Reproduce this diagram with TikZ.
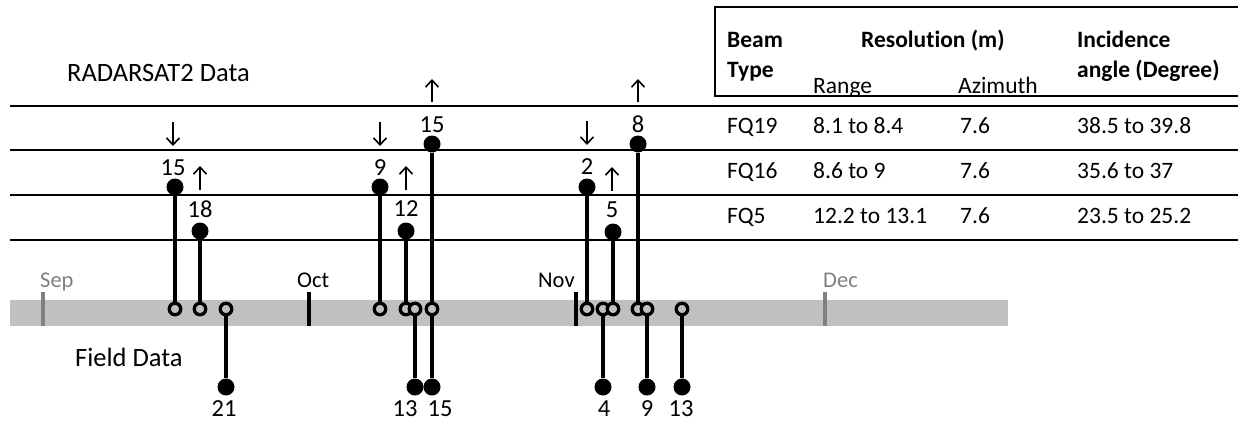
\documentclass[tikz,border=0pt]{standalone}
\usepackage{fontspec}
\setmainfont[Ligatures=NoCommon]{Carlito}
\usetikzlibrary{arrows.meta}
\definecolor{barcol}{HTML}{C0C0C0}
\definecolor{monthgray}{HTML}{808080}
\begin{document}
\begin{tikzpicture}[x=1pt,y=-1pt,
  dotnode/.style={circle,fill=black,inner sep=0pt,minimum size=17pt},
  ringnode/.style={circle,draw=black,line width=3.3pt,fill=barcol,inner sep=0pt,minimum size=11.5pt},
  stem/.style={line width=4pt},
  num/.style={font=\fontsize{24.5}{27}\selectfont,inner sep=0pt},
  tab/.style={font=\fontsize{23.5}{26}\selectfont,inner sep=0pt,anchor=base west},
  tabb/.style={font=\fontsize{23.5}{26}\selectfont\bfseries,inner sep=0pt,anchor=base west},
  big/.style={font=\fontsize{26.5}{30}\selectfont,inner sep=0pt,anchor=base west},
  month/.style={font=\fontsize{22.5}{26}\selectfont,inner sep=0pt,anchor=base west},
  tick/.style={line width=4pt},
  rowline/.style={line width=1.7pt},
  dirarrow/.style={line width=1.6pt,-{Straight Barb[length=7pt,width=13pt]}},
]
\useasboundingbox (0,0) rectangle (1238,421);

% timeline bar
\fill[barcol] (10,300) rectangle (1008,326);
% month ticks
\draw[tick,monthgray] (43,292) -- (43,326);
\draw[tick] (309,292) -- (309,326);
\draw[tick] (576,292) -- (576,326);
\draw[tick,monthgray] (825,292) -- (825,326);
\node[month,text=monthgray] (sep) at (40,287) {Sep};
\node[month] (oct) at (297,287) {Oct};
\node[month] (nov) at (538,287) {Nov};
\node[month,text=monthgray] (dec) at (823,287) {Dec};

% row lines
\draw[rowline] (10,106) -- (1238,106);
\draw[rowline] (10,150) -- (1238,150);
\draw[rowline] (10,195) -- (1238,195);
\draw[rowline] (10,240) -- (1238,240);

% table header box
\draw[line width=1.5pt] (1238,7) -- (715,7) -- (715,96) -- (1238,96);
\node[tabb] (hbeam) at (727,47) {Beam};
\node[tabb] (htype) at (727,77) {Type};
\node[tabb] (hres) at (861,47) {Resolution (m)};
\node[tab] (hrange) at (813,93) {Range};
\node[tab] (hazi) at (958,93) {Azimuth};
\node[tabb] (hinc) at (1077,47) {Incidence};
\node[tabb] (hang) at (1077,77) {angle (Degree)};
% table rows
\node[tab] (b1) at (727,133) {FQ19};
\node[tab] (r1v) at (813,133) {8.1 to 8.4};
\node[tab] (a1) at (960,133) {7.6};
\node[tab] (i1) at (1077,133) {38.5 to 39.8};
\node[tab] (b2) at (727,178) {FQ16};
\node[tab] (r2v) at (813,178) {8.6 to 9};
\node[tab] (a2) at (960,178) {7.6};
\node[tab] (i2) at (1077,178) {35.6 to 37};
\node[tab] (b3) at (727,223) {FQ5};
\node[tab] (r3v) at (813,223) {12.2 to 13.1};
\node[tab] (a3) at (960,223) {7.6};
\node[tab] (i3) at (1077,223) {23.5 to 25.2};

% section labels
\node[big] (radar) at (67,81) {RADARSAT2 Data};
\node[big] (field) at (75,366) {Field Data};

% rings on the timeline
\node[ringnode] (o1) at (175,309) {};
\node[ringnode] (o2) at (200,309) {};
\node[ringnode] (o3) at (226,309) {};
\node[ringnode] (o4) at (380,309) {};
\node[ringnode] (o5) at (406,309) {};
\node[ringnode] (o6) at (415,309) {};
\node[ringnode] (o7) at (432,309) {};
\node[ringnode] (o8) at (587,309) {};
\node[ringnode] (o9) at (603,309) {};
\node[ringnode] (o10) at (613,309) {};
\node[ringnode] (o11) at (638,309) {};
\node[ringnode] (o12) at (647,309) {};
\node[ringnode] (o13) at (682,309) {};

% RADARSAT2 acquisitions
\node[dotnode] (t1) at (175,187) {};
\node[dotnode] (t2) at (200,231) {};
\node[dotnode] (t3) at (380,187) {};
\node[dotnode] (t4) at (406,231) {};
\node[dotnode] (t5) at (432,144) {};
\node[dotnode] (t6) at (587,187) {};
\node[dotnode] (t7) at (613,232) {};
\node[dotnode] (t8) at (638,144) {};

% field data
\node[dotnode] (f1) at (226,387) {};
\node[dotnode] (f2) at (415,387) {};
\node[dotnode] (f3) at (432,387) {};
\node[dotnode] (f4) at (603,387) {};
\node[dotnode] (f5) at (647,387) {};
\node[dotnode] (f6) at (682,387) {};

% stems
\draw[stem] (t1) -- (o1);
\draw[stem] (t2) -- (o2);
\draw[stem] (t3) -- (o4);
\draw[stem] (t4) -- (o5);
\draw[stem] (t5) -- (o7);
\draw[stem] (t6) -- (o8);
\draw[stem] (t7) -- (o10);
\draw[stem] (t8) -- (o11);
\draw[stem] (o3) -- (f1);
\draw[stem] (o6) -- (f2);
\draw[stem] (o7) -- (f3);
\draw[stem] (o9) -- (f4);
\draw[stem] (o12) -- (f5);
\draw[stem] (o13) -- (f6);

% labels
\node[num] (lt1) at (173,168) {15};
\node[num] (lt2) at (200,209) {18};
\node[num] (lt3) at (380,168) {9};
\node[num] (lt4) at (406,209) {12};
\node[num] (lt5) at (432,125) {15};
\node[num] (lt6) at (587,167) {2};
\node[num] (lt7) at (612,210) {5};
\node[num] (lt8) at (638,124) {8};
\node[num] (lf1) at (224,409) {21};
\node[num] (lf2) at (405,409) {13};
\node[num] (lf3) at (440,409) {15};
\node[num] (lf4) at (604,409) {4};
\node[num] (lf5) at (647,409) {9};
\node[num] (lf6) at (681,409) {13};

% pass direction arrows
\coordinate (d1s) at (173,122); \coordinate (d1e) at (173,146);
\coordinate (d2s) at (380,122); \coordinate (d2e) at (380,146);
\coordinate (d3s) at (587,121); \coordinate (d3e) at (587,145);
\coordinate (u1s) at (200,190); \coordinate (u1e) at (200,166);
\coordinate (u2s) at (406,190); \coordinate (u2e) at (406,166);
\coordinate (u3s) at (612,191); \coordinate (u3e) at (612,167);
\coordinate (u4s) at (432,102); \coordinate (u4e) at (432,79);
\coordinate (u5s) at (638,102); \coordinate (u5e) at (638,79);
\draw[dirarrow] (d1s) -- (d1e);
\draw[dirarrow] (d2s) -- (d2e);
\draw[dirarrow] (d3s) -- (d3e);
\draw[dirarrow] (u1s) -- (u1e);
\draw[dirarrow] (u2s) -- (u2e);
\draw[dirarrow] (u3s) -- (u3e);
\draw[dirarrow] (u4s) -- (u4e);
\draw[dirarrow] (u5s) -- (u5e);
\end{tikzpicture}
\end{document}
